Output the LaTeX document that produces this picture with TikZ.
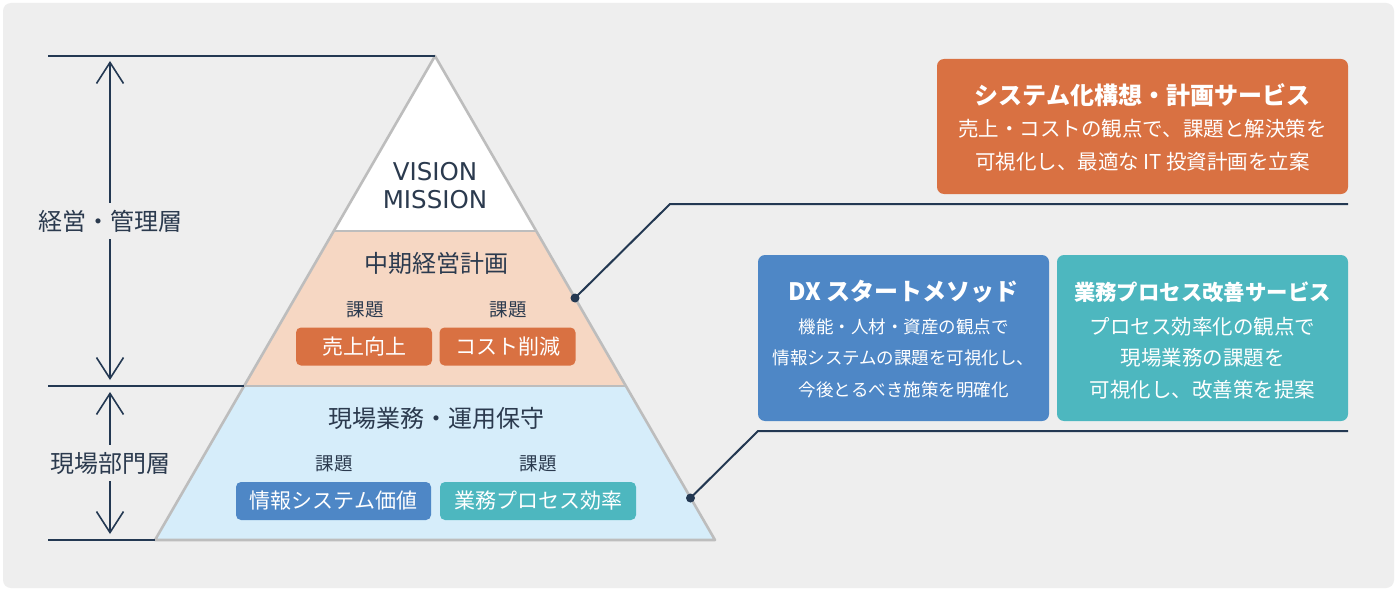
\documentclass[tikz,border=0pt]{standalone}
\usepackage{fontspec}
\setmainfont{Noto Sans CJK JP}
\newfontfamily\latfont{DejaVu Sans}
\usetikzlibrary{arrows.meta}
\definecolor{bg}{HTML}{EEEEEE}
\definecolor{navy}{HTML}{233852}
\definecolor{txt}{HTML}{2B3A4E}
\definecolor{pyrgray}{HTML}{BDBDBD}
\definecolor{peach}{HTML}{F6D7C3}
\definecolor{lblue}{HTML}{D6EDFA}
\definecolor{orangeb}{HTML}{D97142}
\definecolor{blueb}{HTML}{4E87C6}
\definecolor{tealb}{HTML}{4DB7BF}
\tikzset{
  navyline/.style={draw=navy, line width=2pt},
  pyr/.style={draw=pyrgray, line width=2.6pt, line join=round},
  dimarrow/.style={draw=navy, line width=1.6pt, -{Straight Barb[length=21pt,width=27pt,line width=1.6pt]}},
  lbl/.style={text=txt, font=\fontsize{24}{28}\selectfont, inner sep=0pt},
  small/.style={text=txt, font=\fontsize{18.5}{22}\selectfont, inner sep=0pt},
  tag/.style={rounded corners=5pt, text=white, font=\fontsize{21}{24}\selectfont, minimum height=38pt, inner sep=0pt},
  svc/.style={rounded corners=7pt, text=white, align=center, inner sep=0pt},
  dot/.style={circle, fill=navy, minimum size=9pt, inner sep=0pt},
}
\begin{document}
\begin{tikzpicture}[x=1pt,y=-1pt]
\useasboundingbox (0,0) rectangle (1400,591);
\fill[white] (0,0) rectangle (1400,591);
\fill[bg, rounded corners=8pt] (3,3) rectangle (1394,588);

% pyramid
\fill[white] (435,56) -- (536,231) -- (334,231) -- cycle;
\fill[peach] (334,231) -- (536,231) -- (626,386) -- (244,386) -- cycle;
\fill[lblue] (244,386) -- (626,386) -- (715,540) -- (155,540) -- cycle;
\draw[pyr] (334,231) -- (536,231);
\draw[pyr] (244,386) -- (626,386);
\draw[pyr] (435,56) -- (715,540) -- (155,540) -- cycle;

% guide lines
\coordinate (apex) at (435,56);
\coordinate (g1) at (48,56);
\coordinate (m1) at (244,386);
\coordinate (g2) at (48,386);
\coordinate (bl) at (155,540);
\coordinate (g3) at (48,540);
\draw[navyline] (g1) -- (apex);
\draw[navyline] (g2) -- (m1);
\draw[navyline] (g3) -- (bl);

% dimension arrows
\node[lbl, inner ysep=7pt] (mgmt) at (110,221) {経営・管理層};
\coordinate (a1t) at (110,61);
\coordinate (a1b) at (110,380);
\draw[dimarrow] (mgmt.north) -- (a1t);
\draw[dimarrow] (mgmt.south) -- (a1b);
\node[lbl, inner ysep=7pt] (field) at (110,463) {現場部門層};
\coordinate (a2t) at (110,392);
\coordinate (a2b) at (110,534);
\draw[dimarrow] (field.north) -- (a2t);
\draw[dimarrow] (field.south) -- (a2b);

% pyramid texts
\node[text=txt, font=\latfont\fontsize{24.5}{28}\selectfont, align=center, inner sep=0pt] (vision) at (435,186) {VISION\\MISSION};
\node[lbl] (plan) at (436,263) {中期経営計画};
\node[small] (k1) at (365,310) {課題};
\node[small] (k2) at (508,310) {課題};
\node[tag, fill=orangeb, minimum width=136pt] (b1) at (364,346.5) {売上向上};
\node[tag, fill=orangeb, minimum width=136pt] (b2) at (507.5,346.5) {コスト削減};
\node[lbl] (ops) at (436,418) {現場業務・運用保守};
\node[small] (k3) at (334,464) {課題};
\node[small] (k4) at (538,464) {課題};
\node[tag, fill=blueb, minimum width=195pt] (b3) at (333.5,501) {情報システム価値};
\node[tag, fill=tealb, minimum width=196pt] (b4) at (538,501) {業務プロセス効率};

% service boxes
\node[svc, fill=orangeb, minimum width=411pt, minimum height=135pt] (s1) at (1142.5,126.5) {};
\node[text=white, font=\bfseries\fontsize{24}{28}\selectfont, inner sep=0pt] (s1t) at (1142.5,95) {システム化構想・計画サービス};
\node[text=white, font=\fontsize{20.5}{33}\selectfont, align=center, inner sep=0pt] (s1b) at (1142.5,145.5) {売上・コストの観点で、課題と解決策を\\可視化し、最適な IT 投資計画を立案};

\node[svc, fill=blueb, minimum width=291pt, minimum height=166pt] (s2) at (903.5,338) {};
\node[text=white, font=\bfseries\fontsize{24}{28}\selectfont, inner sep=0pt] (s2t) at (903.5,292) {DX スタートメソッド};
\node[text=white, font=\fontsize{17.5}{31.5}\selectfont, align=center, inner sep=0pt] (s2b) at (903.5,358) {機能・人材・資産の観点で\\情報システムの課題を可視化し、\\今後とるべき施策を明確化};

\node[svc, fill=tealb, minimum width=291pt, minimum height=166pt] (s3) at (1202.5,338) {};
\node[text=white, font=\bfseries\fontsize{21.4}{26}\selectfont, inner sep=0pt] (s3t) at (1202.5,292) {業務プロセス改善サービス};
\node[text=white, font=\fontsize{20.5}{31.5}\selectfont, align=center, inner sep=0pt] (s3b) at (1202.5,358) {プロセス効率化の観点で\\現場業務の課題を\\可視化し、改善策を提案};

% connectors
\node[dot] (d1) at (575,298) {};
\coordinate (c1) at (670,204);
\coordinate (e1) at (1348,204);
\draw[navyline] (d1.center) -- (c1) -- (e1);
\node[dot] (d2) at (690.5,498) {};
\coordinate (c2) at (758,431);
\coordinate (e2) at (1348,431);
\draw[navyline] (d2.center) -- (c2) -- (e2);
\end{tikzpicture}
\end{document}
